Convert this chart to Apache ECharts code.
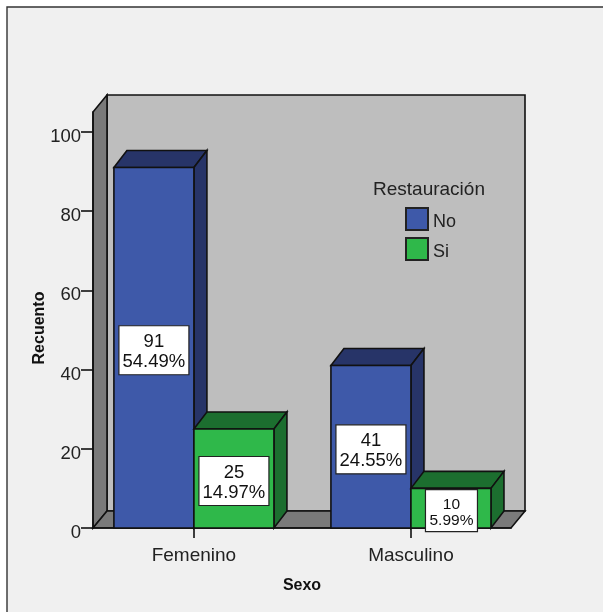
<!DOCTYPE html>
<html>
<head>
<meta charset="utf-8">
<style>html,body{margin:0;padding:0;background:#fff}#chart{width:603px;height:612px}</style>
<script src="https://cdn.jsdelivr.net/npm/echarts@6/dist/echarts.min.js"></script>
</head>
<body>
<div id="chart"></div>
<script>
const categories = ['Femenino', 'Masculino'];
const yTicks = [0, 20, 40, 60, 80, 100];
const noCounts = [91, 41];
const noPercents = ['54.49%', '24.55%'];
const siCounts = [25, 10];
const siPercents = ['14.97%', '5.99%'];

const FONT = '"Liberation Sans", Arial, sans-serif';
const X_MIN = -0.465, X_MAX = 1.461, Y_MAX = 105;
const BAR_SPAN = 0.3687;
const WALL_DEPTH = [14, -17];
const BAR_DEPTH = [13, -17];
const INK = '#111';
// Square swatch sitting at the top of a taller legend item, so the text centres lower than it.
const SWATCH_ICON = 'path://M0,0H22V22H0ZM0,28L0,28';

function poly(points, fill, stroke, width) {
  return {
    type: 'polygon',
    shape: { points },
    style: { fill, stroke: stroke || INK, lineWidth: width || 1.6, lineJoin: 'miter' }
  };
}

// Back wall, side wall and floor of the box behind the bars.
function renderWalls(params, api) {
  const a = api.coord([X_MIN, 0]);
  const b = api.coord([X_MAX, 0]);
  const t = api.coord([X_MIN, Y_MAX]);
  const [dx, dy] = WALL_DEPTH;
  const sh = (p) => [p[0] + dx, p[1] + dy];
  return {
    type: 'group',
    children: [
      poly([sh(t), [b[0] + dx, t[1] + dy], sh(b), sh(a)], '#bebebe'),
      poly([a, sh(a), sh(t), t], '#7a7a7a'),
      poly([a, sh(a), sh(b), b], '#7a7a7a')
    ]
  };
}

// One extruded bar with its white count / percent box.
function barRenderer(direction, front, dark, percents) {
  return function (params, api) {
    const cat = api.value(0);
    const val = api.value(1);
    const p0 = api.coord([cat, 0]);
    const p1 = api.coord([cat + direction * BAR_SPAN, val]);
    const x0 = Math.min(p0[0], p1[0]);
    const x1 = Math.max(p0[0], p1[0]);
    const yB = p0[1];
    const yT = p1[1];
    const [dx, dy] = BAR_DEPTH;
    const barH = yB - yT;
    const small = barH < 49;
    const boxW = small ? 52 : 70;
    const boxH = small ? 42 : 49;
    const cx = (x0 + x1) / 2 + (small ? 0.5 : 0);
    const cy = (yB + yT) / 2 + 2.5;
    return {
      type: 'group',
      children: [
        poly([[x0, yT], [x0 + dx, yT + dy], [x1 + dx, yT + dy], [x1, yT]], dark),
        poly([[x1, yT], [x1 + dx, yT + dy], [x1 + dx, yB + dy], [x1, yB]], dark),
        poly([[x0, yT], [x1, yT], [x1, yB], [x0, yB]], front),
        {
          type: 'rect',
          shape: { x: cx - boxW / 2, y: cy - boxH / 2, width: boxW, height: boxH },
          style: { fill: '#fff', stroke: '#222', lineWidth: 1.2 }
        },
        {
          type: 'text',
          style: {
            x: cx, y: cy + 2,
            text: val + '\n' + percents[cat],
            fill: '#111',
            font: (small ? 15.5 : 18.5) + 'px ' + FONT,
            lineHeight: small ? 16 : 20,
            align: 'center',
            verticalAlign: 'middle'
          }
        }
      ]
    };
  };
}

const chart = echarts.init(document.getElementById('chart'), null, { renderer: 'canvas' });
chart.setOption({
  animation: false,
  backgroundColor: '#fff',
  graphic: [
    {
      type: 'rect', z: -10, silent: true,
      shape: { x: 7, y: 7, width: 596, height: 605 },
      style: { fill: '#f0f0f0' }
    },
    {
      type: 'polyline', z: -9, silent: true,
      shape: { points: [[7, 612], [7, 7], [603, 7]] },
      style: { fill: 'none', stroke: '#333', lineWidth: 1.4 }
    }
  ],
  title: {
    text: 'Restauración',
    left: 373, top: 180, padding: 0,
    textStyle: { fontFamily: FONT, fontSize: 19, fontWeight: 'normal', color: '#222' }
  },
  legend: {
    data: ['No', 'Si'],
    orient: 'vertical',
    left: 405, top: 207, padding: 0,
    itemWidth: 22, itemHeight: 28, itemGap: 0,
    icon: SWATCH_ICON,
    textStyle: { fontFamily: FONT, fontSize: 18, color: '#222' }
  },
  grid: { left: 93, right: 92, top: 112, bottom: 84 },
  xAxis: {
    type: 'value',
    min: X_MIN, max: X_MAX,
    z: 2,
    splitLine: { show: false },
    axisLine: { show: true, onZero: false, lineStyle: { color: INK, width: 1.6 } },
    axisTick: { show: true, length: 10, customValues: [0, 1], lineStyle: { color: INK, width: 1.6 } },
    axisLabel: {
      show: true, customValues: [0, 1], margin: 18,
      fontFamily: FONT, fontSize: 19, color: '#222',
      formatter: (v) => categories[Math.round(v)]
    },
    name: 'Sexo',
    nameLocation: 'middle',
    nameGap: 50,
    nameMoveOverlap: false,
    nameTextStyle: { fontFamily: FONT, fontSize: 16, fontWeight: 'bold', color: '#111' }
  },
  yAxis: {
    type: 'value',
    min: 0, max: Y_MAX,
    z: 2,
    splitLine: { show: false },
    axisLine: { show: true, onZero: false, lineStyle: { color: INK, width: 1.6 } },
    axisTick: { show: true, length: 12, customValues: yTicks, lineStyle: { color: INK, width: 1.6 } },
    axisLabel: {
      show: true, customValues: yTicks, margin: 12,
      verticalAlign: 'top', lineHeight: 10,
      fontFamily: FONT, fontSize: 18.5, color: '#222'
    },
    name: 'Recuento',
    nameLocation: 'middle',
    nameGap: 45,
    nameRotate: 90,
    nameMoveOverlap: false,
    nameTextStyle: { fontFamily: FONT, fontSize: 16, fontWeight: 'bold', color: '#111', padding: [0, 0, 0, -16] }
  },
  series: [
    {
      type: 'custom', name: 'walls', z: 1, silent: true,
      data: [[0, 0]], renderItem: renderWalls
    },
    {
      type: 'custom', name: 'No', z: 3,
      itemStyle: { color: '#3e59a9', borderColor: '#222', borderWidth: 1.2 },
      encode: { x: 0, y: 1 },
      data: noCounts.map((v, i) => [i, v]),
      renderItem: barRenderer(-1, '#3e59a9', '#273468', noPercents)
    },
    {
      type: 'custom', name: 'Si', z: 3,
      itemStyle: { color: '#2fb84a', borderColor: '#222', borderWidth: 1.2 },
      encode: { x: 0, y: 1 },
      data: siCounts.map((v, i) => [i, v]),
      renderItem: barRenderer(1, '#2fb84a', '#1c6e2f', siPercents)
    }
  ]
});
</script>
</body>
</html>
